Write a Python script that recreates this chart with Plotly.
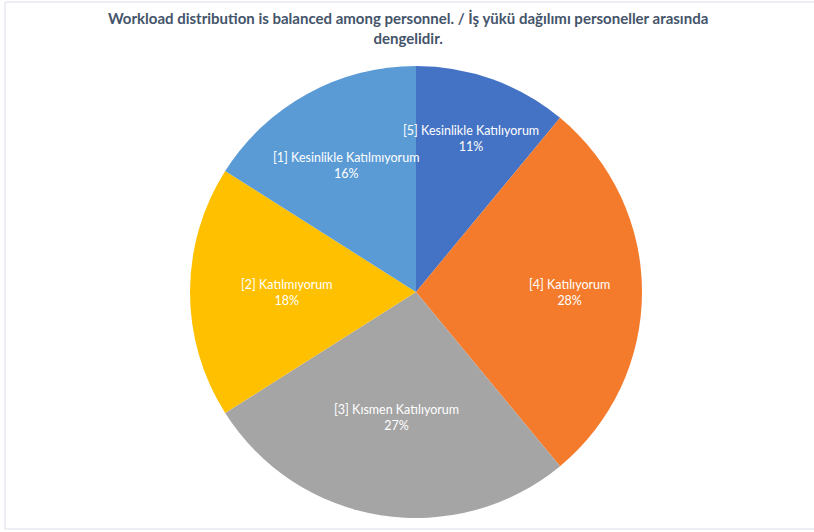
import math
import plotly.graph_objects as go

labels = ["[5] Kesinlikle Katılıyorum", "[4] Katılıyorum", "[3] Kısmen Katılıyorum",
          "[2] Katılmıyorum", "[1] Kesinlikle Katılmıyorum"]
values = [11, 28, 27, 18, 16]
colors = ["#4472C4", "#F47B2C", "#A5A5A5", "#FFC000", "#5B9BD5"]
label_radius = [0.72, 0.68, 0.56, 0.57, 0.64]  # styling: label distance from centre (fraction of radius)
title_text = "Workload distribution is balanced among personnel. / İş yükü dağılımı personeller arasında<br>dengelidir."

W, H = 814, 532
L, R, T, B = 190, 172, 66, 14
pw, ph = W - L - R, H - T - B

fig = go.Figure(go.Pie(
    labels=labels, values=values, sort=False, direction="clockwise", rotation=0,
    marker=dict(colors=colors, line=dict(width=0)),
    textinfo="none", hoverinfo="label+percent", showlegend=False,
))

def px(xp, yp):
    return (xp - L) / pw, 1 - (yp - T) / ph

total = sum(values)
cum = 0
annotations = []
for lab, v, rf in zip(labels, values, label_radius):
    mid = (cum + v / 2) / total * 2 * math.pi
    cum += v
    rpx = rf * pw / 2
    xpx = L + pw / 2 + rpx * math.sin(mid)
    ypx = T + ph / 2 - rpx * math.cos(mid)
    ax, ay = px(xpx, ypx)
    annotations.append(dict(
        x=ax, y=ay, xref="paper", yref="paper", xanchor="center", yanchor="middle",
        text=f"{lab}<br>{round(v / total * 100)}%", showarrow=False,
        font=dict(family="Lato", size=12.5, color="white"), align="center",
    ))

tx, ty = px(W / 2 + 1, 7)
annotations.append(dict(
    x=tx, y=ty, xref="paper", yref="paper", xanchor="center", yanchor="top",
    text=f"<b>{title_text}</b>", showarrow=False, align="center",
    font=dict(family="Lato", size=15, color="#44546A"),
))

x0, y1 = px(5, 2)
x1, y0 = px(W + 5, 529)
fig.update_layout(
    width=W, height=H, margin=dict(l=L, r=R, t=T, b=B),
    paper_bgcolor="white", plot_bgcolor="white",
    annotations=annotations,
    shapes=[dict(type="rect", xref="paper", yref="paper",
                 x0=x0, x1=x1, y0=y0, y1=y1,
                 line=dict(color="#D9DEE8", width=1), fillcolor="rgba(0,0,0,0)")],
)
fig.write_html("out.html", config={"displayModeBar": False},
               post_script="document.body.style.margin='0';")
